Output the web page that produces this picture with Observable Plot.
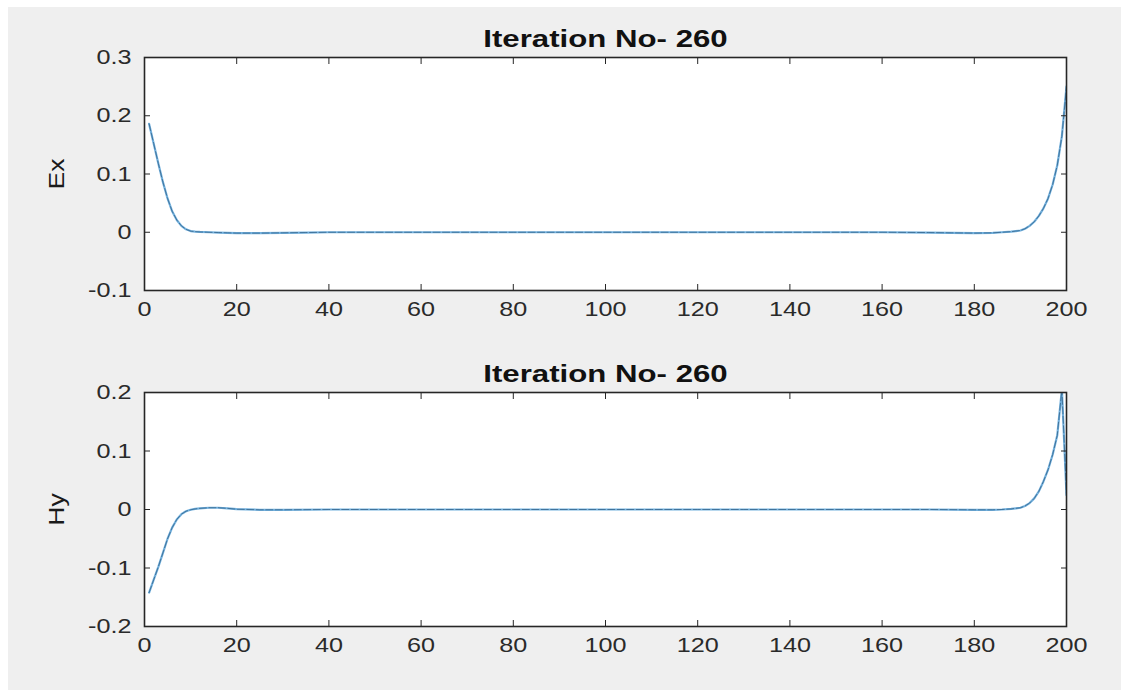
<!DOCTYPE html>
<html>
<head>
<meta charset="utf-8">
<script src="https://cdn.jsdelivr.net/npm/d3@7"></script>
<script src="https://cdn.jsdelivr.net/npm/@observablehq/plot@0.6"></script>
<style>
  html, body { margin: 0; padding: 0; background: #ffffff; }
  #figure { position: absolute; left: 8px; top: 7px; width: 1113px; height: 683px; background: #efefef; }
  .panel { position: absolute; left: 0; }
</style>
</head>
<body>
<div id="figure"></div>
<div id="top" class="panel" style="top:0px"></div>
<div id="bottom" class="panel" style="top:330px"></div>
<script>
// FDTD field snapshot, iteration 260
const titleText = "Iteration No- 260";
const xTicks = [0, 20, 40, 60, 80, 100, 120, 140, 160, 180, 200];

// Electric field Ex along the grid
const exCells = [1, 2, 3, 4, 5, 6, 7, 8, 9, 10, 11, 12, 14, 16, 18, 20, 25, 30, 35, 40, 50, 60, 70, 80, 90, 100, 110, 120, 130, 140, 150, 160, 170, 175, 180, 184, 186, 188, 189, 190, 191, 192, 193, 194, 195, 196, 197, 198, 199, 200];
const exValues = [0.186, 0.152, 0.118, 0.086, 0.058, 0.036, 0.021, 0.011, 0.005, 0.002, 0.001, 0.0005, 0, -0.0005, -0.001, -0.0015, -0.0015, -0.001, -0.0005, 0, 0, 0, 0, 0, 0, 0, 0, 0, 0, 0, 0, 0, -0.0005, -0.001, -0.0015, -0.001, 0, 0.001, 0.002, 0.003, 0.006, 0.011, 0.018, 0.028, 0.041, 0.058, 0.082, 0.115, 0.165, 0.25];
const exTicks = [-0.1, 0, 0.1, 0.2, 0.3];

// Magnetic field Hy along the grid
const hyCells = [1, 2, 3, 4, 5, 6, 7, 8, 9, 10, 11, 12, 14, 16, 18, 20, 25, 30, 40, 50, 60, 70, 80, 90, 100, 110, 120, 130, 140, 150, 160, 170, 180, 184, 186, 188, 189, 190, 191, 192, 193, 194, 195, 196, 197, 198, 199, 200];
const hyValues = [-0.142, -0.12, -0.098, -0.074, -0.05, -0.031, -0.017, -0.008, -0.003, -0.0005, 0.001, 0.002, 0.003, 0.003, 0.002, 0.0005, -0.0005, -0.0005, 0, 0, 0, 0, 0, 0, 0, 0, 0, 0, 0, 0, 0, 0, -0.0005, -0.0005, 0, 0.001, 0.002, 0.003, 0.006, 0.011, 0.019, 0.031, 0.048, 0.068, 0.094, 0.127, 0.205, 0.025];
const hyTicks = [-0.2, -0.1, 0, 0.1, 0.2];

const fmt = d => String(d);

function panel({cells, values, yTicks, ylabel, height, marginTop}) {
  const rows = cells.map((c, i) => ({cell: c, value: values[i]}));
  const svg = Plot.plot({
    width: 1121,
    height,
    marginTop,
    marginBottom: 40,
    marginLeft: 144,
    marginRight: 55,
    style: {background: "transparent", fontFamily: "'Liberation Sans', Arial, sans-serif", fontSize: "21px", color: "#2a2a2a", overflow: "visible"},
    x: {domain: [0, 200]},
    y: {domain: [yTicks[0], yTicks[yTicks.length - 1]]},
    marks: [
      Plot.frame({fill: "white", stroke: "none"}),
      Plot.line(rows, {x: "cell", y: "value", stroke: "#5aa3d8", strokeWidth: 2.2, strokeOpacity: 0.85, clip: true}),
      Plot.line(rows, {x: "cell", y: "value", stroke: "#2f5f86", strokeWidth: 1, strokeOpacity: 0.75, strokeDasharray: "7,2.5", clip: true}),
      Plot.axisX({ticks: xTicks, tickSize: 0, tickPadding: 11, label: null, tickFormat: fmt}),
      Plot.axisX({ticks: xTicks, anchor: "bottom", tickSize: -6, fill: "none", label: null, stroke: "#262626"}),
      Plot.axisX({ticks: xTicks, anchor: "top", tickSize: -6, fill: "none", label: null, stroke: "#262626"}),
      Plot.axisY({ticks: yTicks, tickSize: 0, tickPadding: 13, label: null, tickFormat: fmt}),
      Plot.axisY({ticks: yTicks, anchor: "left", tickSize: -6, fill: "none", label: null, stroke: "#262626"}),
      Plot.axisY({ticks: yTicks, anchor: "right", tickSize: -6, fill: "none", label: null, stroke: "#262626"}),
      Plot.frame({stroke: "#262626", strokeWidth: 1.6}),
      Plot.text([titleText], {frameAnchor: "top", lineAnchor: "bottom", dy: -11, fontWeight: "bold", fontSize: 24, fill: "#111", className: "panel-title"}),
      Plot.text([ylabel], {frameAnchor: "left", textAnchor: "middle", rotate: -90, dx: -88, fontSize: 22, fill: "#1a1a1a"})
    ]
  });
  // widen glyphs horizontally around their anchor points
  svg.querySelectorAll("text").forEach(t => {
    const wide = t.closest(".panel-title") ? 1.3 : 1.2;
    const tr = t.getAttribute("transform") || "";
    t.setAttribute("transform", tr + ` scale(${wide},1)`);
  });
  return svg;
}

document.getElementById("top").append(panel({cells: exCells, values: exValues, yTicks: exTicks, ylabel: "Ex", height: 330, marginTop: 57}));
document.getElementById("bottom").append(panel({cells: hyCells, values: hyValues, yTicks: hyTicks, ylabel: "Hy", height: 336, marginTop: 62}));
</script>
</body>
</html>
